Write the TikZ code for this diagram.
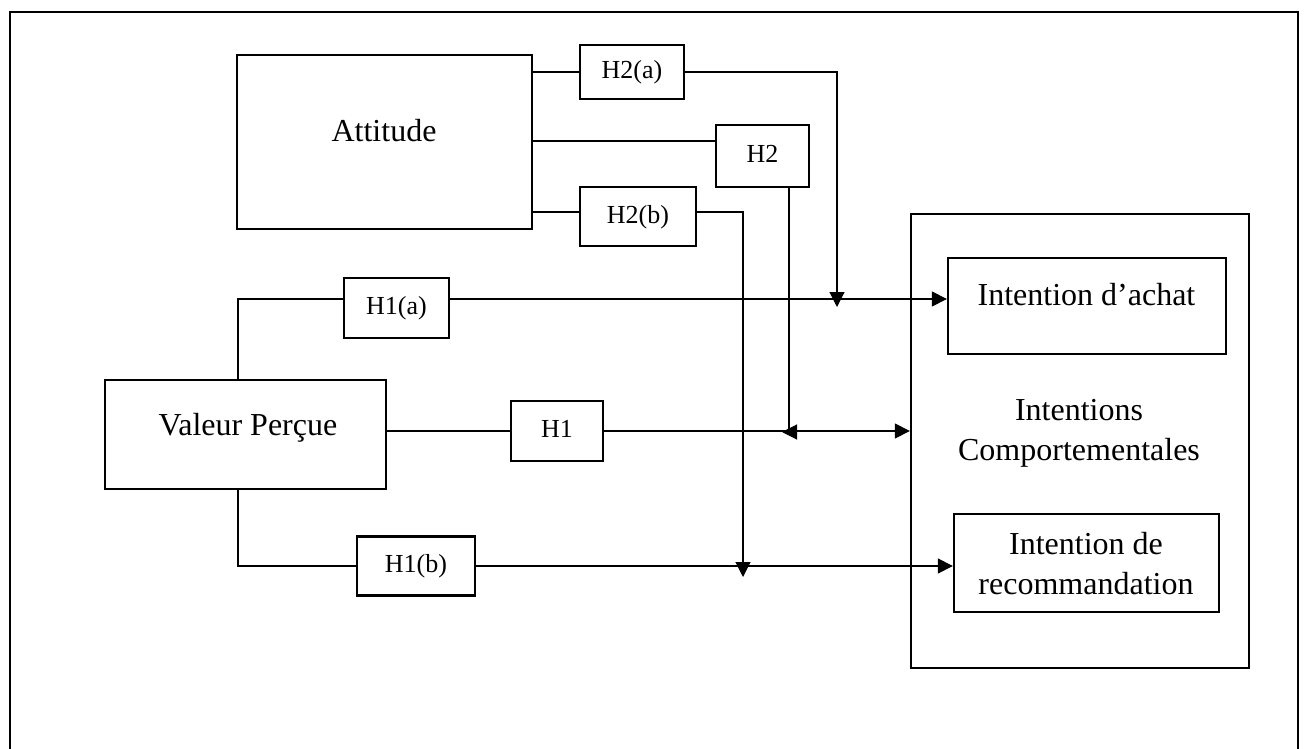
\documentclass[tikz,border=0pt]{standalone}
\usepackage{fontspec}
\setmainfont{Liberation Serif}
\usetikzlibrary{arrows.meta}
\begin{document}
\begin{tikzpicture}[x=1pt,y=-1pt,
  box/.style={draw,line width=2.3pt,inner sep=0pt},
  hbox/.style={box,font=\fontsize{26}{30}\selectfont,text height=18pt,text depth=5pt},
  big/.style={font=\fontsize{32}{40}\selectfont,inner sep=0pt},
  conn/.style={line width=1.1pt},
  arr/.style={conn,-{Triangle[length=15pt,width=15pt]}},
  frame/.style={line width=2.8pt}]
\useasboundingbox (0,0) rectangle (1307,749);
\draw[frame] (10,770) -- (10,12) -- (1298,12) -- (1298,770);
% boxes
\node[box,minimum width=295,minimum height=174] (att) at (384.5,142) {};
\node[big,anchor=base] (attT) at (384,142) {Attitude};
\node[hbox,minimum width=104,minimum height=54] (h2a) at (632,72) {H2(a)};
\node[hbox,minimum width=93,minimum height=62] (h2) at (762.5,156) {H2};
\node[hbox,minimum width=116,minimum height=59] (h2b) at (638,216.5) {H2(b)};
\node[box,minimum width=281,minimum height=109] (val) at (245.5,434.5) {};
\node[big,anchor=base] (valT) at (248,435) {Valeur Perçue};
\node[hbox,minimum width=105,minimum height=60] (h1a) at (396.5,308) {H1(a)};
\node[hbox,minimum width=92,minimum height=60] (h1) at (557,431) {H1};
\node[hbox,minimum width=118,minimum height=59] (h1b) at (416,566) {H1(b)};
\node[box,minimum width=338,minimum height=454] (ic) at (1080,441) {};
\node[big,align=center,anchor=north] (icT) at (1079,399) {Intentions\\Comportementales};
\node[box,minimum width=278,minimum height=96] (ia) at (1087,306) {};
\node[big,anchor=base] (iaT) at (1086.5,305) {Intention d’achat};
\node[box,minimum width=265,minimum height=98] (ir) at (1086.5,563) {};
\node[big,align=center,anchor=north] (irT) at (1086,532) {Intention de\\recommandation};
% coordinates
\coordinate (h2in) at (716,141);
\coordinate (h2out) at (789,187);
\coordinate (t2) at (782,432);
\coordinate (t1) at (837,307);
\coordinate (h2bin) at (580,212);
\coordinate (h2bout) at (696,212);
\coordinate (t3) at (743,577);
\coordinate (v1) at (238,380);
\coordinate (v2) at (238,489);
\coordinate (h1ain) at (344,299);
\coordinate (h1aout) at (449,299);
% connectors
\draw[conn] (att.east |- h2a.west) -- (h2a.west);
\draw[arr] (h2a.east) -| (t1);
\draw[conn] (att.east |- h2in) -- (h2in);
\draw[arr] (h2out) |- (t2);
\draw[conn] (att.east |- h2bin) -- (h2bin);
\draw[arr] (h2bout) -| (t3);
\draw[conn] (v1) |- (h1ain);
\draw[arr] (h1aout) -- (h1aout -| ia.west);
\draw[conn] (val.east |- h1.west) -- (h1.west);
\draw[arr] (h1.east) -- (h1.east -| ic.west);
\draw[conn] (v2) |- (h1b.west);
\draw[arr] (h1b.east) -- (h1b.east -| ir.west);
\end{tikzpicture}
\end{document}
